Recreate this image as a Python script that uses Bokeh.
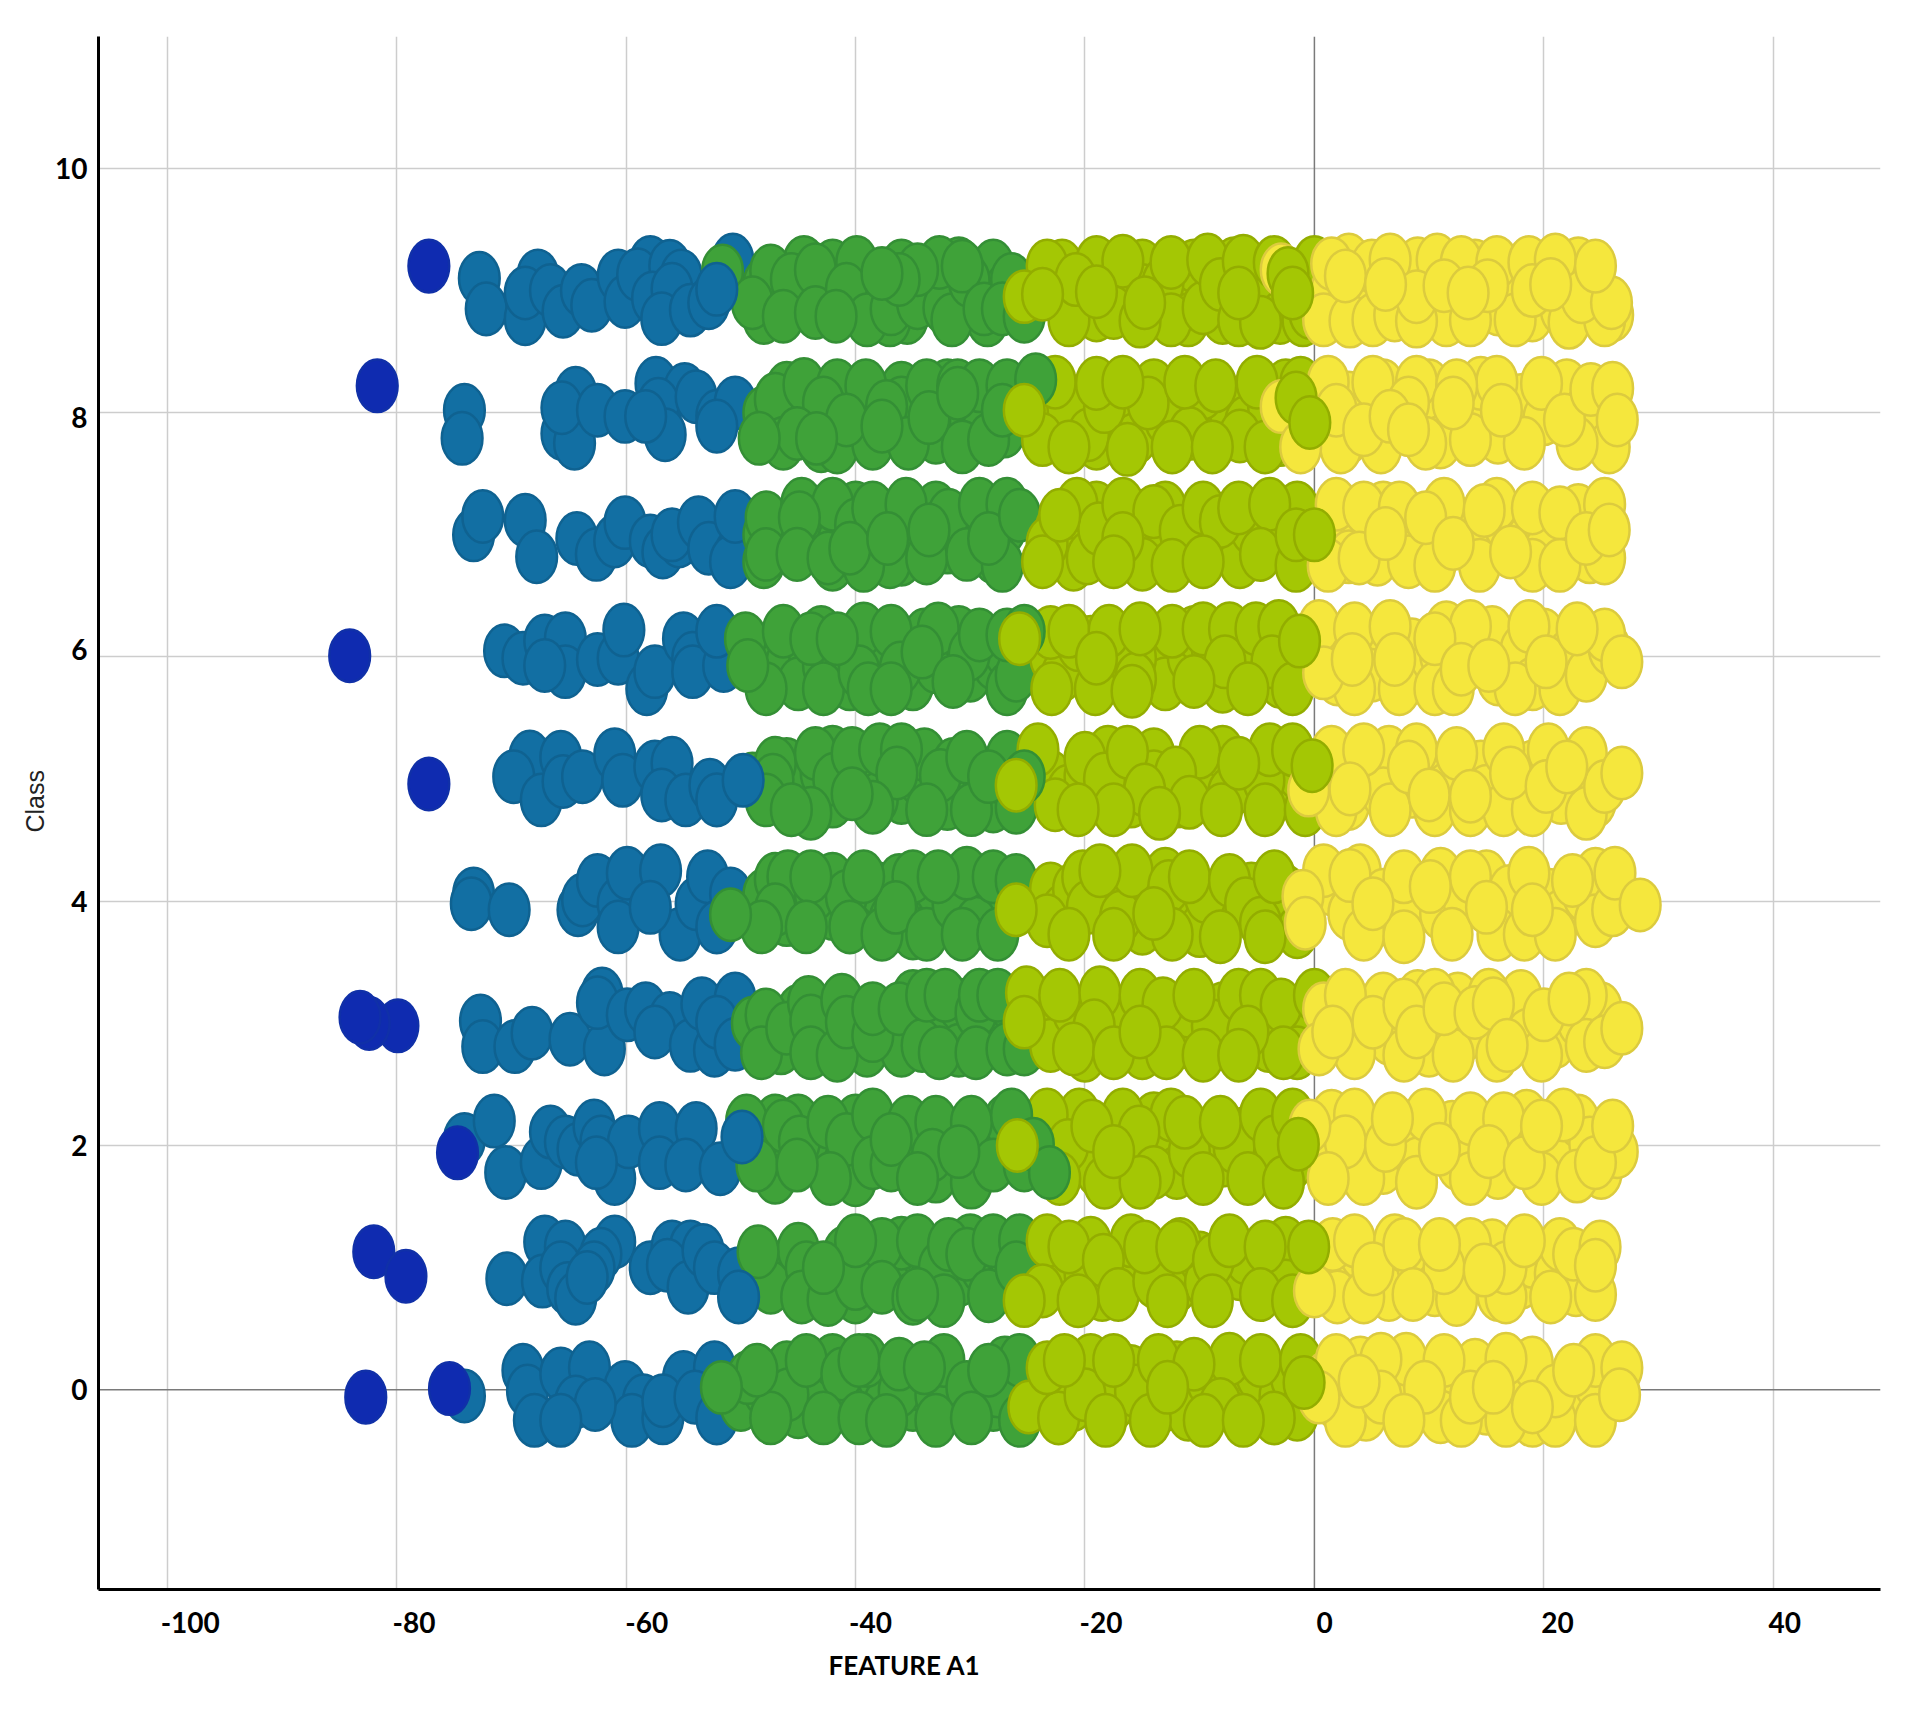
from bokeh.embed import file_html
from bokeh.resources import INLINE
from bokeh.plotting import figure
from bokeh.models import Span, FixedTicker, Range1d, Title

x_ticks = [-100, -80, -60, -40, -20, 0, 20, 40]
y_ticks = [0, 2, 4, 6, 8, 10]
x_label = "FEATURE A1"
y_label = "Class"

dark_pts = [
 (-77.2,9.2),(-81.7,8.22),(-84.1,6.01),(-77.2,4.96),(-79.9,2.98),(-82.4,3.0),(-83.2,3.05),
 (-74.7,1.94),(-82,1.13),(-79.2,0.93),(-82.7,-0.06),(-75.4,0.01),
]
blue_pts = [
 # class 9
 (-72.8,9.10),(-72.2,8.85),(-68.8,8.77),(-67.7,9.12),(-68.8,8.98),(-66.6,9.0),(-65.5,8.83),(-63.9,9.0),(-63,8.88),(-60.7,9.12),(-60.1,8.91),(-57.9,9.23),(-59,9.13),(-56.2,9.2),(-55.2,9.12),(-50.7,9.25),(-57.7,8.94),(-56,9.01),(-56.9,8.77),(-54.4,8.84),(-52.8,8.9),
 # class 8
 (-74.1,8.02),(-74.3,7.79),(-65.6,7.83),(-64.5,7.75),(-64.4,8.16),(-65.6,8.04),(-62.5,8.02),(-60.1,7.97),(-57.4,8.24),(-54.9,8.19),(-57.2,8.07),(-53.9,8.13),(-56.6,7.82),(-52.1,7.97),(-50.5,8.08),(-52.1,7.89),(-58.3,7.97),
 # class 7
 (-73.3,7.0),(-72.5,7.15),(-68.8,7.12),(-67.8,6.82),(-64.3,6.97),(-62.6,6.84),(-61,6.95),(-60.1,7.1),(-57.9,6.95),(-56.8,6.86),(-55.4,6.95),(-56,7.0),(-53.7,7.1),(-52.8,6.89),(-50.5,6.84),(-50.9,6.78),(-50.5,7.15),
 # class 6
 (-70.6,6.05),(-69,5.99),(-67.1,6.13),(-65.3,6.15),(-65.3,5.88),(-67.1,5.93),(-62.5,5.98),(-60.7,5.99),(-58.2,5.74),(-57.5,5.88),(-60.2,6.22),(-55,6.15),(-54.2,5.99),(-54.2,5.88),(-51.5,5.93),(-52.1,6.21),
 # class 5
 (-68.4,5.18),(-65.7,5.18),(-69.8,5.02),(-67.4,4.83),(-65.5,4.98),(-63.8,5.02),(-61,5.2),(-60.3,4.99),(-57.5,5.1),(-56,5.13),(-56.9,4.87),(-54.8,4.83),(-52.7,4.95),(-52.1,4.83),
 # class 4
 (-73.3,4.06),(-73.5,3.98),(-70.2,3.93),(-64.2,3.93),(-63.8,4.01),(-62.5,4.17),(-60.7,3.98),(-59.9,4.23),(-57,4.25),(-60.7,3.79),(-55.3,3.73),(-53.9,3.98),(-52.9,4.2),(-52.1,3.79),(-50.9,4.06),(-57.9,3.95),
 # class 3
 (-72.7,3.02),(-72.5,2.81),(-69.7,2.81),(-68.2,2.92),(-64.9,2.87),(-61.9,2.79),(-62.1,3.24),(-62.5,3.17),(-59.9,3.07),(-58.3,3.12),(-56.2,3.04),(-57.5,2.93),(-54.4,2.82),(-53.4,3.16),(-52.3,2.78),(-50.5,3.2),(-52.1,3.01),(-50.5,2.83),
 # class 2
 (-74.1,2.05),(-71.5,2.2),(-70.5,1.78),(-67.4,1.86),(-66.6,2.11),(-65.3,2.03),(-64.2,1.97),(-62.8,2.16),(-62.2,2.03),(-61,1.73),(-59.8,2.03),(-57.1,2.14),(-57.1,1.86),(-53.9,2.14),(-54.8,1.84),(-51.8,1.81),(-62.6,1.86),
 # class 1
 (-70.4,0.91),(-67.1,1.21),(-65.3,1.17),(-67.3,0.89),(-65.7,1.0),(-61,1.21),(-62.2,1.11),(-62.8,1.0),(-65.1,0.83),(-64.4,0.75),(-63.4,0.92),(-57.9,1.0),(-56,1.17),(-54.4,1.17),(-56.4,1.02),(-54.6,0.84),(-53.3,1.14),(-52.3,1.0),(-50.2,0.95),
 # class 0
 (-74.1,-0.05),(-69,0.16),(-68.6,-0.01),(-68,-0.25),(-65.7,0.13),(-63.2,0.18),(-64.4,-0.1),(-60.1,0.02),(-58.5,-0.09),(-59.5,-0.25),(-56.8,-0.23),(-55,0.1),(-56.8,-0.09),(-52.3,0.18),(-62.7,-0.12),(-65.7,-0.25),(-54,-0.06),(-52.1,-0.23),
]
blue_top_pts = [(-52.1,9.01),(-49.8,4.99),(-49.9,2.07),(-50.2,0.76)]
green_fill_pts = [
 (-48,9.05),(-44,9.0),(-42,9.2),(-38.5,8.95),(-36,9.2),(-35.5,8.78),(-33,9.02),(-30,8.95),(-28,9.2),(-27,9.0),(-44.5,9.23),(-48,8.78),(-42.5,8.95),(-37,8.76),(-28.5,8.76),(-31,9.22),
 (-48,8.0),(-46,8.2),(-44,7.98),(-40,8.12),(-39,7.9),(-36,8.2),(-35,8.0),(-33,7.8),(-30,7.95),(-29,8.05),(-27,7.85),(-43,7.73),(-36,8.08),(-47,7.9),(-32,8.22),(-26.5,8.08),
 (-48,7.0),(-46,6.95),(-43,7.05),(-41.5,6.95),(-40,7.22),(-38,7.0),(-36,6.8),(-35.5,7.1),(-33,7.22),(-32,6.9),(-29.5,7.05),(-28,6.82),(-27,7.05),(-42,6.76),(-37,6.78),(-48,6.78),
 (-48,6.05),(-46,5.95),(-44,6.0),(-45,5.78),(-41,5.95),(-40.5,5.78),(-38,6.1),(-37.5,5.98),(-35,5.78),(-33,5.92),(-34,6.18),(-31,6.2),(-30,5.85),(-28,5.95),(-27,6.05),(-43,6.2),
 (-49,5.0),(-46,5.12),(-45,4.9),(-43,5.05),(-42,4.82),(-39,5.0),(-38.5,5.14),(-36,4.85),(-34.5,5.0),(-34,5.2),(-32,4.8),(-31.5,5.12),(-29.5,4.95),(-28,4.78),(-27,5.0),(-42,5.22),
 (-48,4.05),(-46,3.85),(-44.5,4.0),(-42,3.9),(-42,4.18),(-39,3.95),(-38,4.1),(-37,3.85),(-35,4.05),(-33,3.88),(-33,4.1),(-30,4.0),(-28,3.9),(-27,4.05),(-35,3.74),(-47,4.18),
 (-49,3.0),(-46.5,2.8),(-45,3.1),(-42,2.92),(-41,3.1),(-39,2.78),(-37,3.0),(-36,2.78),(-35,3.22),(-34,3.0),(-32,2.92),(-31,3.15),(-31,2.78),(-28,3.0),(-27,2.88),(-26.5,3.15),
 (-48,2.0),(-47,2.2),(-45,2.2),(-43,1.95),(-41,1.85),(-40,2.2),(-38,2.02),(-35.5,1.95),(-35,2.05),(-33,1.75),(-32,2.1),(-29,2.0),(-27.5,2.05),(-27,2.2),(-40,1.72),(-47,1.74),
 (-47,1.0),(-45,1.15),(-43,0.9),(-41,1.12),(-39.5,1.0),(-37,1.05),(-36,0.95),(-34,1.08),(-33.5,0.88),(-31,0.9),(-30,1.22),(-29,1.0),(-27,0.85),(-26.5,1.08),(-36,1.2),(-40,0.76),
 (-50,-0.12),(-48,0.0),(-46,0.18),(-45,-0.18),(-43,0.05),(-42,0.24),(-40,-0.05),(-38,0.1),(-37.5,-0.12),(-35,-0.12),(-34.5,0.05),(-31.5,-0.12),(-29,0.05),(-28,-0.12),(-27,0.22),(-39,0.24),
]
green_pts = [
 # class 9
 (-51.6,9.16),(-47.4,9.16),(-45.6,9.09),(-49,8.9),(-46.3,8.79),(-43.5,9.17),(-43.5,8.82),(-39.9,9.23),(-40.8,9.01),(-39,8.76),(-41.7,8.79),(-36.9,8.85),(-34.6,8.9),(-32.3,8.86),(-32.7,9.23),(-34.6,9.17),(-36.2,9.09),(-31.6,8.76),(-30.1,9.08),(-30.7,9.2),(-28.8,8.85),(-26.4,9.09),(-27.2,8.85),(-37.7,9.14),
 # class 8
 (-47,8.11),(-44.5,8.23),(-41.6,8.22),(-39.1,8.22),(-42.8,8.08),(-37.3,8.05),(-33.8,8.22),(-31.1,8.22),(-29.2,8.22),(-26.8,8.22),(-46.3,7.75),(-41.6,7.72),(-38.5,7.75),(-35.4,7.75),(-30.7,7.72),(-28.4,7.78),(-27.2,8.02),(-40.8,7.94),(-37.7,7.89),(-33.6,7.96),(-31.1,8.16),(-45.1,7.83),(-43.4,7.79),(-48.4,7.79),
 # class 7
 (-47.8,7.14),(-44.7,7.25),(-42,7.25),(-44.9,7.14),(-47.8,6.84),(-45.1,6.84),(-42.4,6.81),(-40,7.08),(-39.3,6.75),(-38.5,7.22),(-35.6,7.25),(-40.5,6.89),(-37.2,6.97),(-33.8,6.81),(-31.9,7.16),(-33.6,7.04),(-29.2,7.25),(-30.3,6.84),(-26.8,7.25),(-27.2,6.75),(-28.4,6.97),(-25.7,7.16),
 # class 6
 (-49.6,6.15),(-46.3,6.21),(-47.8,5.74),(-42.8,5.93),(-42.8,5.74),(-39.3,6.23),(-39.7,5.88),(-36.9,6.21),(-36.1,5.91),(-32.8,6.23),(-34.2,6.04),(-30.1,6.02),(-31.5,5.8),(-29.2,6.18),(-38.9,5.74),(-43.9,6.15),(-41.6,6.15),(-49.4,5.93),(-26.8,5.74),(-26,5.85),(-26.8,6.18),(-36.9,5.74),
 # class 5
 (-47,5.13),(-47.2,4.99),(-43.5,5.21),(-41.9,5.0),(-40.3,5.21),(-38.1,4.84),(-37.9,5.24),(-36,5.24),(-36.4,5.05),(-32.6,5.03),(-30.3,5.18),(-26.8,5.18),(-43.9,4.72),(-47.8,4.83),(-45.6,4.75),(-33.8,4.75),(-29.9,4.75),(-26,4.77),(-38.5,4.77),(-40.3,4.88),(-28.4,5.02),
 # class 4
 (-45.9,4.2),(-47,3.93),(-43.5,4.06),(-40.8,4.04),(-40.5,3.79),(-37.7,3.73),(-36.2,4.17),(-35,4.2),(-36.5,3.95),(-33.8,3.73),(-31.5,3.98),(-29.5,3.82),(-30.3,4.23),(-28,4.2),(-26,4.17),(-30.7,3.73),(-27.6,3.73),(-43.9,4.2),(-44.3,3.79),(-39.3,4.2),(-48.2,3.79),(-32.8,4.2),(-50.9,3.89),
 # class 3
 (-47.8,3.07),(-48.2,2.76),(-46,2.96),(-44.1,3.17),(-43.9,3.02),(-43.9,2.76),(-41.2,3.19),(-41.6,2.74),(-40.8,3.01),(-38.5,2.9),(-38.5,3.12),(-36.2,3.12),(-34.2,2.82),(-33.8,3.23),(-32.2,3.23),(-32.7,2.76),(-29.5,3.09),(-29.2,3.23),(-29.5,2.76),(-26.8,2.79),(-25.3,2.79),(-27.6,3.23),
 # class 2
 (-49.5,2.2),(-46.3,2.16),(-44.9,2.03),(-48.6,1.84),(-42.4,2.19),(-40.8,2.05),(-38.5,2.25),(-38.5,1.86),(-42.2,1.73),(-36.9,1.84),(-35.4,2.19),(-33,2.19),(-33.3,1.92),(-29.9,2.19),(-29.9,1.7),(-28,1.84),(-25.3,1.84),(-45.1,1.84),(-36.9,2.05),(-31,1.95),(-34.6,1.73),
 # class 1
 (-47.4,0.84),(-44.3,1.0),(-44.7,0.76),(-42.4,0.74),(-40,0.87),(-37.7,1.19),(-40,1.22),(-37.7,0.84),(-34.6,1.22),(-35,0.75),(-32.7,1.0),(-31.9,1.19),(-32.3,0.73),(-30.3,1.11),(-28.4,0.77),(-28,1.22),(-25.7,1.22),(-26,1),(-34.6,0.78),(-42.8,1),(-48.5,1.13),
 # class 0
 (-49.4,0.1),(-45.9,-0.04),(-44.3,0.24),(-41.2,0.13),(-42.8,-0.23),(-39.7,0.24),(-39.7,-0.23),(-36.2,-0.01),(-33,-0.04),(-32.3,0.24),(-30.3,0.02),(-37.3,-0.25),(-33,-0.25),(-27.6,-0.01),(-25.7,0.24),(-29.9,-0.23),(-25.7,-0.25),(-36.2,0.21),(-47.4,-0.23),(-48.6,0.16),(-34,0.18),(-28.4,0.16),(-51.7,0.02),
]
green_top_pts = [(-25.3,8.79),(-24.3,8.27),(-25.3,6.21),(-25.3,5.02),(-26.4,2.25),(-24.5,2.01),(-23.1,1.78)]
olive_fill_pts = [
 (-23,9.0),(-21,8.95),(-19,8.8),(-17,9.05),(-15,9.2),(-15,9.0),(-11,9.0),(-10.5,9.2),(-11,8.76),(-8,8.78),(-4,8.95),(-3,8.78),(-1.5,9.05),(-7,9.22),(-22,9.2),(-1,8.76),
 (-23,7.95),(-23,8.12),(-20.5,7.9),(-17,7.95),(-15.5,7.8),(-14,8.22),(-13,7.95),(-11.5,8.0),(-9,7.9),(-7.5,8.05),(-6,7.92),(-4,8.05),(-3,7.78),(-2.5,8.22),(-19,7.75),(-17,8.18),
 (-22.5,7.05),(-21,6.9),(-20,7.1),(-15,7.05),(-14,6.85),(-13,7.22),(-11.5,6.85),(-7.5,6.95),(-6.5,6.78),(-5.5,7.05),(-3,6.95),(-2.5,7.15),(-1.5,7.22),(-15,6.76),(-21,6.76),(-19,7.22),
 (-23,6.0),(-22,5.85),(-19.5,6.12),(-17.5,5.85),(-17,6.05),(-13.5,6.02),(-13,5.78),(-11,6.0),(-10.5,6.2),(-8,5.76),(-6,6.08),(-5.5,5.88),(-3,5.8),(-2,6.1),(-1.5,5.92),(-23,6.2),
 (-23,5.02),(-21.5,4.9),(-20,5.02),(-16,5.05),(-16,4.82),(-14,5.2),(-14,5.02),(-12,4.82),(-9,5.05),(-8,5.22),(-7.5,4.88),(-6,4.95),(-3,5.08),(-2,4.88),(-1.5,5.05),(-18,5.22),
 (-23,4.1),(-22,3.92),(-21,4.1),(-18,3.95),(-17,4.1),(-15,3.78),(-14.5,4.05),(-13,4.22),(-11,3.92),(-10,3.76),(-8,3.9),(-7.5,4.05),(-5.5,4.1),(-3,3.92),(-2.5,4.08),(-1.5,3.75),
 (-23,3.05),(-23,2.82),(-21,3.1),(-18,3.12),(-17,2.95),(-15,2.76),(-13,3.0),(-11.5,2.85),(-11,3.1),(-8,3.12),(-7.5,2.85),(-4,3.02),(-4,2.82),(-1.5,3.0),(-1.5,2.76),(-20,2.74),
 (-23,2.08),(-22,1.88),(-20,2.02),(-19,1.8),(-17,2.1),(-14,2.22),(-13.5,1.98),(-12,1.78),(-9,2.02),(-8,1.88),(-6,2.1),(-5,1.92),(-2.5,2.1),(-2,1.85),(-12.5,2.25),(-20.5,2.25),
 (-22,1.05),(-22,0.88),(-20,0.95),(-19.5,1.2),(-16,1.05),(-16,1.22),(-13,1.02),(-12,0.85),(-10,1.08),(-9.5,0.88),(-6.5,0.95),(-6,1.08),(-3,0.98),(-2.5,1.2),(-2.5,0.85),(-18.5,0.78),
 (-22,0.02),(-21,-0.12),(-18.5,0.05),(-17.5,-0.12),(-16,0.15),(-13,-0.12),(-12,0.18),(-11,-0.05),(-7,0.05),(-6,-0.05),(-5,0.12),(-3,-0.05),(-2,0.1),(-1.5,-0.2),(-19.5,0.24),(-11,-0.2),
]
olive_pts = [
 # class 9
 (-23.3,9.2),(-21.4,8.76),(-19,9.23),(-16.7,9.24),(-17.5,8.82),(-13.2,9.06),(-12.5,9.23),(-12.5,8.76),(-9.7,8.86),(-9.3,9.25),(-8.2,9.05),(-6.2,9.24),(-6.6,8.76),(-3.5,9.23),(-4.7,8.74),(0,9.23),(-0.4,8.82),(-15.2,8.75),(-20.8,9.09),
 # class 8
 (-21.5,8.05),(-19.7,7.82),(-18.3,8.05),(-14.5,8.08),(-9.7,8.16),(-10.9,7.83),(-6.5,7.81),(-22.6,8.25),(-19,8.24),(-16.7,8.25),(-11.3,8.25),(-8.6,8.22),(-5,8.25),(-1.2,8.24),(-23.7,7.78),(-21.4,7.72),(-16.3,7.7),(-12.4,7.72),(-8.9,7.72),(-4.3,7.72),
 # class 7
 (-23.3,6.93),(-20.7,7.25),(-19.8,6.81),(-18.8,7.05),(-16.7,7.25),(-14,7.19),(-16.7,6.97),(-17.5,6.78),(-11.7,7.03),(-9.7,7.22),(-12.4,6.75),(-8.2,7.11),(-9.7,6.78),(-6.6,7.22),(-3.9,7.25),(-4.7,6.84),(-1.6,6.75),(-23.7,6.78),(-22.2,7.16),
 # class 6
 (-20.6,6.1),(-21.4,6.21),(-15.6,5.99),(-15.6,5.82),(-12.4,6.21),(-8.9,6.07),(-9.7,6.23),(-7.4,6.23),(-7.8,5.96),(-5.1,6.23),(-3.1,6.25),(-3.7,5.96),(-22.9,5.74),(-19.1,5.74),(-15.9,5.72),(-10.5,5.8),(-5.8,5.74),(-1.9,5.74),(-17.9,6.21),(-15.2,6.23),(-19,5.99),
 # class 5
 (-24.1,5.24),(-20,5.17),(-22.6,4.79),(-18.3,5.0),(-16.3,5.22),(-10,5.22),(-12.1,5.05),(-10.9,4.81),(-4.4,4.99),(-3.9,5.24),(-1.9,5.24),(-14.8,4.91),(-17.5,4.75),(-13.5,4.72),(-8.1,4.75),(-6.6,5.13),(-4.3,4.75),(-0.8,4.75),(-20.6,4.75),
 # class 4
 (-23.3,3.84),(-20.2,4.2),(-19.8,3.95),(-16.9,3.87),(-15.9,4.25),(-18.7,4.25),(-12.7,4.12),(-9.5,4.04),(-10.9,4.2),(-7.4,4.17),(-6,3.98),(-4.7,3.82),(-3.5,4.2),(-21.4,3.73),(-17.5,3.73),(-12.4,3.73),(-8.2,3.71),(-4.3,3.71),(-14,3.9),
 # class 3
 (-25.1,3.25),(-22.2,3.23),(-18.7,3.25),(-19.2,2.98),(-21,2.79),(-15.2,3.23),(-13.2,3.16),(-17.5,2.76),(-12.9,2.76),(-8.9,2.98),(-9.7,2.74),(-6.6,3.23),(-4.7,3.23),(-2.9,3.15),(-2.7,2.76),(-5.8,2.93),(-10.5,3.23),(-15.2,2.93),(0,3.23),(-6.6,2.74),
 # class 2
 (-23.3,2.25),(-21.5,2.0),(-16.7,2.25),(-19.4,2.16),(-15.3,2.11),(-14,1.78),(-10.9,1.95),(-7,1.99),(-11.3,2.19),(-8.2,2.19),(-4.7,2.25),(-3.5,2.03),(-22.2,1.73),(-18.3,1.7),(-15.2,1.7),(-9.7,1.73),(-5.8,1.73),(-2.7,1.7),(-17.5,1.95),(-1.9,2.25),
 # class 1
 (-23.3,1.22),(-23.7,0.81),(-21.4,1.17),(-18.4,1.06),(-17.1,0.78),(-14,0.89),(-14.8,1.17),(-11.7,1.19),(-12,1.17),(-8.8,1.06),(-7.4,1.22),(-4.3,1.17),(-4.7,0.78),(-25.3,0.73),(-20.6,0.73),(-12.8,0.73),(-8.9,0.73),(-1.9,0.73),
 # class 0
 (-24.9,-0.14),(-22.3,-0.23),(-23.3,0.18),(-20,-0.04),(-21.8,0.24),(-15.6,-0.01),(-17.5,0.24),(-13.6,0.24),(-9.3,0.07),(-7.4,0.25),(-8.2,-0.12),(-3.5,-0.23),(-4.7,0.24),(-1.2,0.24),(-10.5,0.21),(-14.3,-0.25),(-18.2,-0.25),(-9.6,-0.25),(-6.2,-0.25),(-12.8,0.02),
]
olive_top_pts = [
 (-25.3,8.95),(-23.7,8.97),(-19,8.99),(-14.8,8.9),(-6.6,8.98),(-2.3,9.14),(-1.9,8.98),
 (-25.3,8.02),(-1.6,8.12),(-0.4,7.92),(-1.6,7.0),(0,7.0),(-25.7,6.15),(-1.3,6.13),
 (-26,4.95),(-0.2,5.11),(-26,3.93),(-25.3,3.01),(-25.9,2.0),(-1.4,2.01),(-0.5,1.17),(-0.9,0.06),
]
yellow_fill_pts = [
 (1.5,9.0),(3,9.25),(4.5,8.95),(9,9.22),(10,8.85),(11.5,8.76),(14,9.2),(16,8.85),(17.5,9),(19,8.8),(21.5,8.85),(23,9.22),(24.5,9),(26,8.8),(5,9.2),(1.5,9.22),
 (0.5,8.02),(3,8.12),(3,7.8),(6,8.22),(7,8.02),(10,8.22),(10.5,7.92),(11,7.76),(14,8.0),(14.5,8.24),(16,7.8),(18,8.1),(20,7.95),(22,8.22),(23.5,8.0),(24.5,7.85),
 (1,7.0),(3,7.1),(3,6.82),(5.5,6.8),(8,7.0),(10.5,6.9),(10,7.08),(13,7.08),(14.5,6.85),(16.5,7.1),(18.5,6.95),(19.5,7.12),(20,6.85),(23,7.2),(24,6.82),(6,7.22),
 (1,6.05),(2,5.82),(5,6.1),(5,5.85),(8.5,6.1),(9,5.85),(11,6.02),(11.5,6.24),(14,6.05),(15.5,6.2),(16,5.82),(18,6.05),(20,6.18),(22,6.0),(24,6.15),(19,5.78),
 (1,5.05),(1.5,5.22),(3,4.8),(5.5,5.05),(6.5,5.22),(6,4.88),(8.5,4.9),(10.5,5.05),(11.5,4.92),(14.5,5.1),(15,4.9),(18,4.86),(19,5.1),(21.5,4.85),(24,5.0),(24.5,4.82),
 (1.5,4.1),(3,3.9),(4,4.25),(6,4.05),(6.5,3.85),(8.5,3.95),(11,4.22),(11,3.9),(13,4.02),(15,4.2),(16,3.85),(17,4.08),(20.5,4.05),(21.5,3.88),(23.5,4.05),(24.5,4.22),
 (0.8,3.12),(3,3.0),(3.5,2.85),(6,3.2),(6.5,2.88),(9,3.22),(10,3.02),(10,2.78),(12.5,3.2),(13,2.9),(17,3.05),(18,3.22),(18.5,2.9),(21,2.85),(23,3.02),(25,3.12),
 (1,2.0),(1.5,2.24),(3.5,1.85),(6,1.82),(7.5,2.05),(9,1.85),(12,2.15),(12.5,1.85),(14,2.02),(16,1.78),(17,2.02),(18.5,2.24),(21,2.02),(23,2.2),(24,2.02),(25,1.78),
 (1,1.02),(2,0.9),(4,1.12),(6,1.02),(6.5,0.78),(9,1.02),(10.5,0.82),(12.5,1.1),(13,0.88),(15.5,1.18),(18,0.88),(19,1.05),(21,0.95),(22.8,0.82),(16,0.78),(2,0.76),
 (1,0.1),(2,-0.12),(4,0.22),(4.5,-0.2),(7,0.12),(8,0.25),(10,-0.12),(11,0.05),(11,-0.22),(14,0.2),(15,-0.15),(17.5,0.1),(19,0.22),(19,-0.25),(23,-0.1),(24.5,0.05),
]
yellow_pts = [
 # class 9
 (0.8,8.76),(3.1,8.75),(5.1,8.76),(7,8.8),(8.9,8.75),(13.6,8.76),(17.5,8.76),(22.2,8.74),(25.3,8.76),(6.6,9.25),(10.7,9.25),(12.8,9.23),(15.9,9.23),(18.7,9.23),(21,9.25),(2.7,9.12),(8.9,8.95),(11.3,9.04),(15.1,9.04),(19,9),(23.3,8.95),(25.9,8.9),(6.2,9.05),(13.4,8.98),(20.6,9.05),(24.5,9.2),(-2.9,9.17),
 # class 8
 (1.2,8.25),(5.1,8.25),(8.9,8.25),(15.9,8.25),(2.3,7.72),(9.7,7.75),(5.8,7.72),(13.6,7.78),(18.3,7.75),(25.7,7.72),(22.9,7.75),(-2.9,8.05),(-1.2,7.72),(1.9,8.02),(4.3,7.86),(8.2,8.08),(6.6,7.97),(8.2,7.86),(12.4,8.22),(12.1,8.08),(16.3,8.02),(19.8,8.24),(21.8,7.94),(24.1,8.19),(26,8.2),(26.4,7.94),
 # class 7
 (1.9,7.25),(4.3,7.22),(7.4,7.22),(11.3,7.25),(15.9,7.25),(19,7.22),(25.3,7.25),(1.2,6.75),(8.2,6.78),(10.5,6.75),(14.4,6.75),(19,6.75),(21.4,6.75),(25.3,6.81),(3.9,6.81),(6.2,7.01),(9.7,7.14),(12.1,6.93),(14.8,7.2),(17.1,6.86),(21.4,7.18),(23.7,6.97),(25.7,7.04),
 # class 6
 (0.4,6.25),(3.5,6.23),(6.6,6.25),(13.6,6.25),(3.5,5.74),(7.4,5.74),(10.5,5.74),(12.1,5.74),(17.5,5.74),(21.4,5.74),(23.7,5.85),(25.7,6.07),(25.3,6.18),(0.8,5.87),(3.3,5.98),(7,5.98),(10.5,6.15),(12.8,5.9),(15.2,5.93),(18.7,6.25),(20.2,5.96),(22.9,6.23),(26.8,5.96),
 # class 5
 (4.3,5.24),(8.9,5.24),(16.5,5.24),(20.4,5.24),(23.7,5.21),(1.9,4.75),(6.6,4.75),(10.5,4.75),(13.6,4.75),(16.5,4.75),(19,4.75),(23.7,4.72),(25.3,4.94),(-0.5,4.91),(3.1,4.92),(8.2,5.1),(10,4.87),(12.4,5.21),(13.6,4.86),(17.1,5.05),(20.2,4.94),(22,5.1),(26.8,5.05),
 # class 4
 (0.8,4.25),(7.8,4.2),(13.6,4.2),(4.3,3.73),(7.8,3.71),(12,3.73),(16,3.73),(18.3,3.73),(21,3.73),(24.5,3.84),(26,3.93),(26.2,4.23),(-1,4.04),(-0.8,3.82),(3.1,4.21),(5.1,3.98),(10.1,4.12),(15,3.95),(18.7,4.23),(19,3.93),(22.5,4.17),(28.4,3.97),
 # class 3
 (2.7,3.23),(10.5,3.23),(15.2,3.23),(23.7,3.23),(3.5,2.76),(7.8,2.74),(12.1,2.74),(15.9,2.74),(19.8,2.74),(23.7,2.82),(25.3,2.85),(0.4,2.79),(1.6,2.93),(5.1,3.01),(7.8,3.15),(8.9,2.93),(11.3,3.12),(14,3.09),(15.6,3.16),(16.8,2.82),(20,3.07),(22.2,3.2),(26.8,2.96),
 # class 2
 (3.5,2.25),(9.7,2.25),(13.6,2.22),(16.5,2.22),(21.7,2.25),(4.3,1.73),(8.9,1.7),(13.6,1.73),(19.8,1.73),(22.9,1.75),(26.4,1.95),(2.7,2.03),(-0.4,2.16),(1.2,1.73),(6.2,2),(6.8,2.22),(10.9,1.97),(15.2,1.95),(18.3,1.86),(19.8,2.16),(24.5,1.86),(26,2.16),
 # class 1
 (1.6,1.19),(3.5,1.22),(7,1.22),(13.6,1.19),(21.4,1.19),(4.3,0.76),(12.4,0.74),(16.7,0.76),(20.6,0.76),(24.5,0.78),(11.3,1),(16.7,1),(0,0.81),(5.1,0.99),(7.8,1.19),(8.6,0.78),(10.9,1.19),(14.8,0.98),(18.3,1.22),(22.6,1.11),(24.9,1.17),(24.5,1.02),
 # class 0
 (1.9,0.24),(5.8,0.25),(11.3,0.24),(16.7,0.25),(24.5,0.24),(2.7,-0.25),(12.8,-0.25),(16.7,-0.25),(21,-0.25),(24.5,-0.25),(0.4,-0.06),(5.8,-0.06),(13.6,-0.06),(21,-0.01),(3.9,0.07),(9.6,0.02),(7.8,-0.25),(15.6,0.02),(19,-0.14),(22.6,0.16),(26.8,0.18),(26.6,-0.04),
]

W, H = 1903, 1695
LEFT, TOP = 98, 36
XMIN, XMAX = -106.0, 49.35
ELL_W, ELL_H = 3.55, 0.43
p = figure(width=W, height=H, output_backend="svg", toolbar_location=None,
           x_range=Range1d(XMIN, XMAX), y_range=Range1d(-1.635, 11.08),
           min_border_left=LEFT, min_border_right=23, min_border_top=TOP, min_border_bottom=106,
           background_fill_color="white", border_fill_color="white")
p.outline_line_color = None

FONT = "Lato"
# the reference's tick labels sit to the right of their grid lines
x_label_shift = [2.0, 1.5, 1.8, 1.3, 1.4, 0.9, 1.2, 1.0]
x_label_at = [round(t + s, 1) for t, s in zip(x_ticks, x_label_shift)]
y_label_shift = [0, 0, 0, 0.06, -0.04, 0]
y_label_at = [round(t + s, 2) for t, s in zip(y_ticks, y_label_shift)]

xa, ya = p.xaxis[0], p.yaxis[0]
xa.ticker = FixedTicker(ticks=x_label_at)
xa.major_label_overrides = {k: str(t) for k, t in zip(x_label_at, x_ticks)}
ya.ticker = FixedTicker(ticks=y_label_at)
ya.major_label_overrides = {k: str(t) for k, t in zip(y_label_at, y_ticks)}
xa.major_label_standoff = 16
ya.major_label_standoff = 5
for ax in (xa, ya):
    ax.axis_line_color = "black"
    ax.axis_line_width = 3
    ax.major_tick_line_color = None
    ax.minor_tick_line_color = None
    ax.major_label_text_font = FONT
    ax.major_label_text_font_style = "bold"
    ax.major_label_text_font_size = "28px"
    ax.major_label_text_color = "black"

p.xgrid[0].ticker = FixedTicker(ticks=[t for t in x_ticks if t != 0])
p.ygrid[0].ticker = FixedTicker(ticks=[t for t in y_ticks if t != 0])
p.xgrid.grid_line_color = "#cdcdcd"
p.ygrid.grid_line_color = "#cdcdcd"
p.xgrid.grid_line_width = 1.5
p.ygrid.grid_line_width = 1.5
p.add_layout(Span(location=0, dimension="height", line_color="#7a7a7a", line_width=1.5, level="underlay"))
p.add_layout(Span(location=0, dimension="width", line_color="#7a7a7a", line_width=1.5, level="underlay"))

layers = [
    (blue_pts, "#126fa3", "#0f6291"),
    (green_fill_pts, "#3fa239", "#348f35"),
    (green_pts, "#3fa239", "#348f35"),
    (olive_fill_pts, "#a4c704", "#93ad00"),
    (olive_pts, "#a4c704", "#93ad00"),
    (yellow_fill_pts, "#f5e73d", "#dccb3e"),
    (yellow_pts, "#f5e73d", "#dccb3e"),
    (green_top_pts, "#3fa239", "#348f35"),
    (olive_top_pts, "#a4c704", "#93ad00"),
    (blue_top_pts, "#126fa3", "#0f6291"),
    (dark_pts, "#0f2bb0", "#1030a8"),
]
for pts, fill, edge in layers:
    xs = [a for a, _ in pts]
    ys = [b for _, b in pts]
    p.ellipse(xs, ys, width=ELL_W, height=ELL_H, fill_color=fill, line_color=edge, line_width=2.5)

p.add_layout(Title(text=x_label, align="left", offset=730, standoff=22, text_font=FONT,
                   text_font_style="bold", text_font_size="26px", text_color="black"), "below")
p.add_layout(Title(text=y_label, align="left", offset=757, standoff=8, text_font="Liberation Sans",
                   text_font_style="normal", text_font_size="25px", text_color="#222222"), "left")

open("out.html", "w").write(file_html(p, INLINE))
